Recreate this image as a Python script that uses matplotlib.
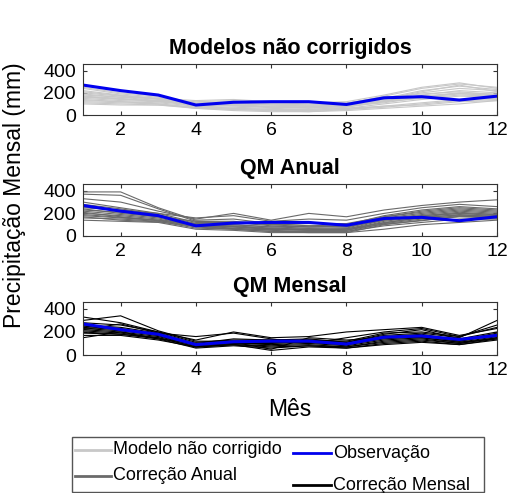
import matplotlib
matplotlib.use('Agg')
import matplotlib.pyplot as plt
from matplotlib.lines import Line2D
from matplotlib.patches import Rectangle

plt.rcParams['font.family'] = ['Liberation Sans', 'DejaVu Sans']

months = list(range(1, 13))

# observed monthly precipitation (mm)
obs = [270, 220, 180, 90, 115, 120, 120, 95, 155, 165, 135, 170]

# raw model runs
raw_models = [
    [250, 200, 170, 110, 120, 100, 90, 100, 170, 240, 280, 250],
    [220, 180, 150, 100, 90, 80, 70, 90, 150, 220, 260, 230],
    [200, 170, 140, 90, 80, 70, 60, 80, 140, 200, 240, 220],
    [180, 160, 130, 80, 70, 60, 50, 70, 120, 180, 220, 200],
    [170, 150, 120, 100, 110, 90, 80, 90, 130, 170, 200, 190],
    [160, 140, 130, 120, 130, 110, 100, 110, 160, 190, 210, 180],
    [150, 130, 120, 90, 100, 100, 90, 100, 120, 150, 180, 170],
    [140, 120, 110, 80, 60, 50, 40, 60, 100, 140, 170, 160],
    [130, 120, 100, 70, 50, 40, 30, 50, 80, 110, 140, 150],
    [120, 110, 100, 60, 50, 40, 40, 50, 70, 100, 130, 140],
    [110, 100, 90, 70, 60, 50, 50, 60, 80, 90, 120, 130],
    [190, 160, 150, 130, 140, 120, 110, 120, 180, 250, 290, 240],
    [240, 190, 160, 100, 100, 90, 80, 80, 110, 160, 190, 180],
    [100, 90, 90, 60, 40, 30, 30, 40, 60, 80, 100, 130],
    [210, 175, 145, 85, 95, 65, 75, 85, 145, 210, 270, 210],
    [165, 145, 125, 95, 85, 75, 65, 75, 125, 165, 195, 175],
]

# quantile mapping with a single annual transfer function
qm_annual = [
    [390, 390, 250, 140, 150, 110, 90, 100, 180, 230, 260, 240],
    [370, 360, 240, 130, 120, 100, 80, 90, 170, 220, 250, 230],
    [330, 300, 220, 150, 200, 140, 200, 170, 230, 270, 300, 320],
    [300, 250, 200, 120, 120, 90, 80, 80, 160, 200, 230, 210],
    [280, 240, 190, 110, 100, 80, 70, 70, 150, 190, 220, 200],
    [260, 220, 180, 100, 90, 70, 60, 60, 140, 180, 210, 190],
    [240, 200, 170, 100, 80, 60, 50, 50, 130, 170, 200, 180],
    [220, 190, 160, 90, 80, 60, 50, 50, 120, 160, 190, 170],
    [200, 180, 150, 90, 70, 50, 40, 40, 110, 150, 180, 160],
    [180, 160, 140, 80, 60, 40, 30, 30, 100, 140, 170, 160],
    [160, 150, 130, 70, 60, 40, 40, 40, 90, 120, 150, 150],
    [140, 130, 120, 60, 50, 30, 30, 30, 60, 100, 120, 140],
    [250, 230, 200, 160, 180, 130, 150, 140, 200, 250, 280, 260],
    [230, 210, 170, 130, 130, 100, 110, 110, 170, 210, 240, 220],
    [210, 170, 140, 110, 100, 80, 90, 80, 140, 180, 200, 190],
    [190, 165, 135, 95, 85, 65, 55, 65, 115, 165, 185, 175],
    [170, 140, 125, 85, 65, 55, 65, 55, 105, 135, 175, 165],
]

# quantile mapping with one transfer function per month
qm_monthly = [
    [330, 280, 200, 110, 130, 130, 140, 110, 170, 190, 150, 300],
    [300, 340, 210, 120, 120, 110, 130, 120, 190, 200, 160, 260],
    [280, 260, 200, 130, 200, 150, 160, 200, 220, 240, 170, 230],
    [260, 240, 190, 100, 140, 130, 130, 110, 180, 220, 140, 200],
    [250, 230, 180, 90, 120, 120, 120, 100, 160, 180, 130, 190],
    [240, 220, 170, 90, 110, 110, 110, 90, 150, 170, 120, 180],
    [230, 210, 170, 80, 100, 100, 110, 90, 140, 160, 120, 170],
    [220, 200, 160, 80, 100, 90, 100, 80, 130, 150, 110, 160],
    [210, 190, 150, 70, 90, 80, 90, 70, 120, 140, 100, 150],
    [200, 180, 150, 70, 90, 70, 80, 70, 110, 130, 100, 150],
    [190, 180, 140, 60, 80, 60, 80, 60, 100, 120, 90, 140],
    [170, 170, 130, 70, 90, 40, 70, 60, 90, 110, 90, 130],
    [150, 200, 140, 100, 110, 50, 150, 130, 150, 150, 110, 140],
    [220, 270, 190, 160, 190, 140, 100, 150, 200, 230, 160, 240],
]

titles = ['Modelos não corrigidos', 'QM Anual', 'QM Mensal']
colors = ['#c8c8c8', '#6a6a6a', '#000000']
legend_labels = ['Modelo não corrigido', 'Correção Anual', 'Observação', 'Correção Mensal']
obs_color = '#0000ee'

fig = plt.figure(figsize=(5.10, 4.93), dpi=100)
W, H = 510., 493.


def fx(px):
    return px / W


def fy(py):
    return 1 - py / H


left, right = fx(83), fx(497)
panels = [(64, 115), (184, 236), (302, 355)]

for series, title, c, (top, bot) in zip([raw_models, qm_annual, qm_monthly], titles, colors, panels):
    ax = fig.add_axes([left, fy(bot), right - left, (bot - top) / H])
    for s in series:
        ax.plot(months, s, color=c, lw=0.8)
    ax.plot(months, obs, color=obs_color, lw=2.2)
    ax.set_xlim(1, 12)
    ax.set_ylim(0, 460)
    ax.set_xticks([2, 4, 6, 8, 10, 12])
    ax.set_yticks([0, 200, 400])
    ax.tick_params(direction='in', top=True, right=True, labelsize=14, length=3,
                   color='#333333', pad=5)
    for sp in ax.spines.values():
        sp.set_color('#333333')
        sp.set_linewidth(0.8)
    ax.set_title(title, fontsize=15.5, fontweight='bold', pad=7)

fig.text(fx(15), fy(195), 'Precipitação Mensal (mm)', rotation=90,
         fontsize=16.5, ha='center', va='center')
fig.text(fx(290), fy(410), 'Mês', fontsize=16.5, ha='center', va='center')

# legend box below the panels, two columns
fig.add_artist(Rectangle((fx(72), fy(492)), fx(484) - fx(72), (492 - 437) / H,
                         transform=fig.transFigure, facecolor='white',
                         edgecolor='#555555', lw=1.0))
leg_colors = [colors[0], colors[1], obs_color, colors[2]]
leg_rows = [(75, 111, 450), (75, 111, 476), (293, 331, 453), (293, 331, 485)]
for lab, col, (x0, x1, yy) in zip(legend_labels, leg_colors, leg_rows):
    fig.add_artist(Line2D([fx(x0), fx(x1)], [fy(yy), fy(yy)], transform=fig.transFigure,
                          color=col, lw=2))
    fig.text(fx(x1 + 2), fy(yy), lab, fontsize=13, ha='left', va='center')

fig.savefig('out.png', dpi=100)
